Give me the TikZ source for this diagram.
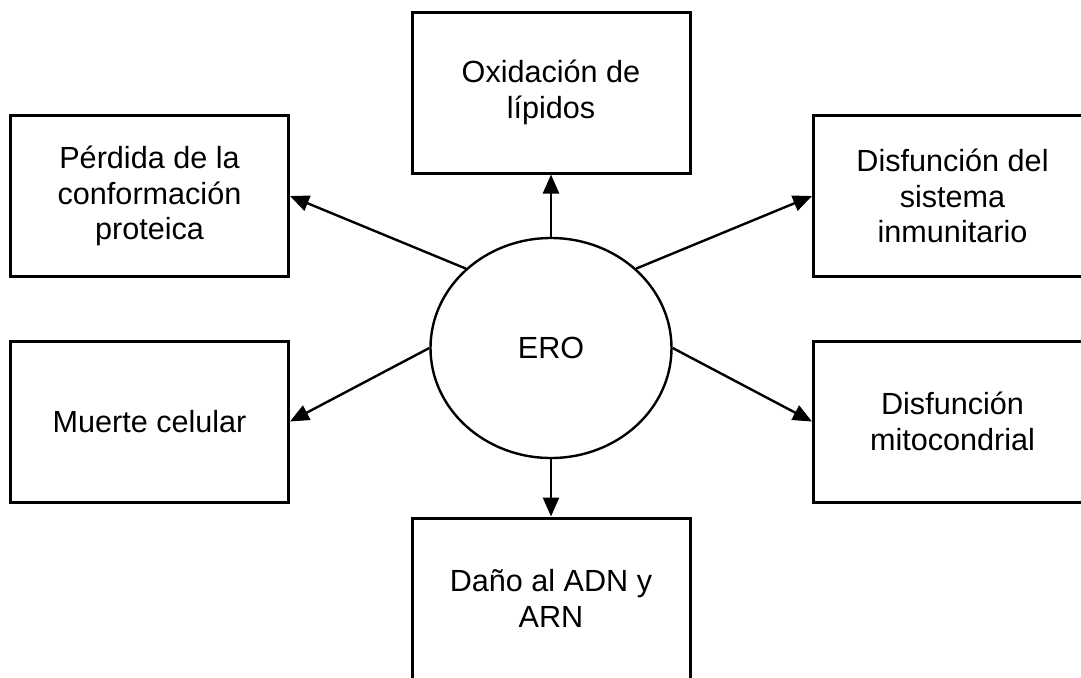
\documentclass[tikz,border=0pt]{standalone}
\usepackage{fontspec}
\setmainfont{Liberation Sans}
\usetikzlibrary{arrows.meta,shapes.geometric}

\begin{document}
\begin{tikzpicture}[x=0.5pt, y=-0.5pt,
    every node/.style={align=center,font=\fontsize{15.3}{17.8}\selectfont},
    efecto/.style={draw,line width=1.5pt,minimum width=139pt,minimum height=80.5pt,inner sep=0pt},
    flecha/.style={line width=1.2pt,-{Triangle[length=9.5pt,width=8pt]}}]
          \useasboundingbox (0,0) rectangle (1081,677);
          \node [draw,ellipse,line width=1.2pt,minimum width=120.5pt,minimum height=110pt,inner sep=0pt] (ero) at (551,348) {ERO};
          \node [efecto] (lip) at (551,92.5) {Oxidación de\\lípidos};
          \node [efecto] (prot) at (149.5,196) {Pérdida de la\\conformación\\proteica};
          \node [efecto] (inm) at (952.5,196) {Disfunción del\\sistema\\inmunitario};
          \node [efecto] (muer) at (149.5,421.5) {Muerte celular};
          \node [efecto] (mito) at (952.5,421.5) {Disfunción\\mitocondrial};
          \node [efecto] (adn) at (551,598.5) {Daño al ADN y\\ARN};
          \draw [flecha] (ero.north) -- (lip.south);
          \draw [flecha] (ero.137) -- (prot.east);
          \draw [flecha] (ero.43) -- (inm.west);
          \draw [flecha] (ero.west) -- (muer.east);
          \draw [flecha] (ero.east) -- (mito.west);
          \draw [flecha] (ero.south) -- (adn.north);
        \end{tikzpicture}
\end{document}
